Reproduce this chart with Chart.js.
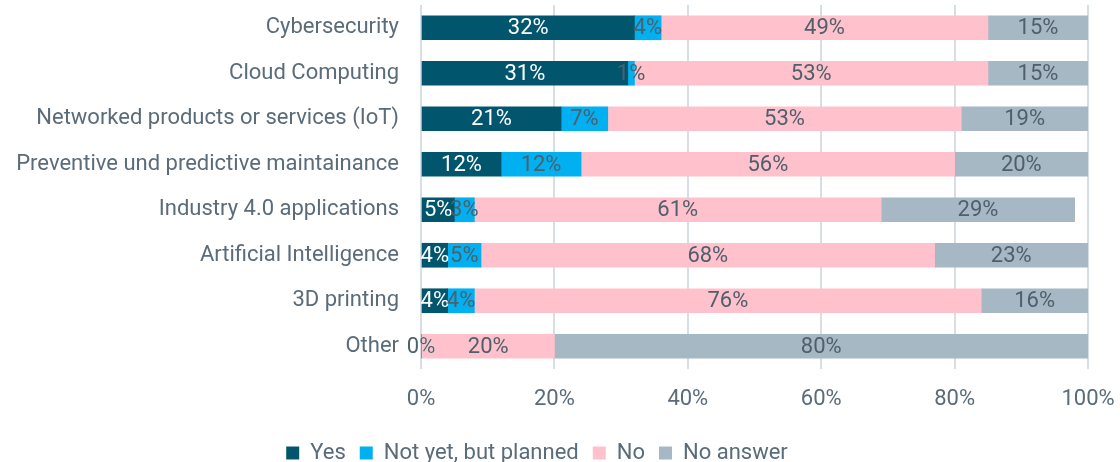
<!DOCTYPE html>
<html>
<head>
<meta charset="utf-8">
<script src="https://cdn.jsdelivr.net/npm/chart.js@4"></script>
<style>
  html, body { margin: 0; padding: 0; background: #fff; }
  #wrap { width: 1120px; height: 462px; }
</style>
</head>
<body>
<div id="wrap"><canvas id="grafico"></canvas></div>
<script>
const categorias = [
  "Cybersecurity",
  "Cloud Computing",
  "Networked products or services (IoT)",
  "Preventive und predictive maintainance",
  "Industry 4.0 applications",
  "Artificial Intelligence",
  "3D printing",
  "Other"
];
const sim = [32, 31, 21, 12, 5, 4, 4, 0];
const planejado = [4, 1, 7, 12, 3, 5, 4, 0];
const nao = [49, 53, 53, 56, 61, 68, 76, 20];
const semResposta = [15, 15, 19, 20, 29, 23, 16, 80];
const ticksX = ["0%", "20%", "40%", "60%", "80%", "100%"];

const corTexto = "#5a6b79";
const fonte = "Roboto, 'Liberation Sans', sans-serif";

// desenha o valor no meio de cada barra
const rotulos = {
  id: "rotulos",
  afterDatasetsDraw(chart) {
    const ctx = chart.ctx;
    ctx.save();
    ctx.font = "22px " + fonte;
    ctx.textAlign = "center";
    ctx.textBaseline = "middle";
    chart.data.datasets.forEach((ds, i) => {
      const meta = chart.getDatasetMeta(i);
      meta.data.forEach((bar, j) => {
        const v = ds.data[j];
        ctx.fillStyle = i === 0 ? "#ffffff" : "#4f5f6b";
        ctx.fillText(v + "%", (bar.x + bar.base) / 2, bar.y + 1);
      });
    });
    ctx.restore();
  }
};

// legenda um pouco mais para baixo e para a esquerda
const ajusteLegenda = {
  id: "ajusteLegenda",
  afterLayout(chart) {
    const l = chart.legend;
    l.top += 12;
    l.bottom += 12;
    l.left -= 7;
    l.right -= 7;
  }
};

document.addEventListener("DOMContentLoaded", () => {
  const ctx = document.getElementById("grafico").getContext("2d");
  new Chart(ctx, {
    type: "bar",
    data: {
      labels: categorias,
      datasets: [
        { label: "Yes", data: sim, backgroundColor: "#01566e" },
        { label: "Not yet, but planned", data: planejado, backgroundColor: "#00b0f0" },
        { label: "No", data: nao, backgroundColor: "#ffc1cb" },
        { label: "No answer", data: semResposta, backgroundColor: "#a6b8c3" }
      ]
    },
    options: {
      indexAxis: "y",
      responsive: true,
      maintainAspectRatio: false,
      animation: false,
      barThickness: 24,
      layout: { padding: { top: 5, right: 32, left: 0, bottom: 0 } },
      scales: {
        x: {
          stacked: true,
          min: 0,
          max: 100,
          afterFit: (s) => {
            s.height = 47;
            s.paddingLeft = 0;
            s.paddingRight = 0;
          },
          ticks: {
            stepSize: 20,
            padding: 17,
            color: corTexto,
            font: { family: fonte, size: 22 },
            callback: (v, i) => ticksX[i]
          },
          grid: { color: "#d8dfe4", lineWidth: 2, drawTicks: false },
          border: { display: false }
        },
        y: {
          stacked: true,
          afterFit: (s) => {
            s.width = 421;
            s.paddingTop = 0;
            s.paddingBottom = 0;
          },
          ticks: {
            padding: 22,
            color: corTexto,
            font: { family: fonte, size: 22 }
          },
          grid: { display: false, drawTicks: false },
          border: { display: false }
        }
      },
      plugins: {
        tooltip: { enabled: false },
        legend: {
          position: "bottom",
          labels: {
            boxWidth: 13,
            boxHeight: 13,
            padding: 14,
            color: corTexto,
            font: { family: fonte, size: 22 }
          }
        }
      }
    },
    plugins: [rotulos, ajusteLegenda]
  });
});
</script>
</body>
</html>
